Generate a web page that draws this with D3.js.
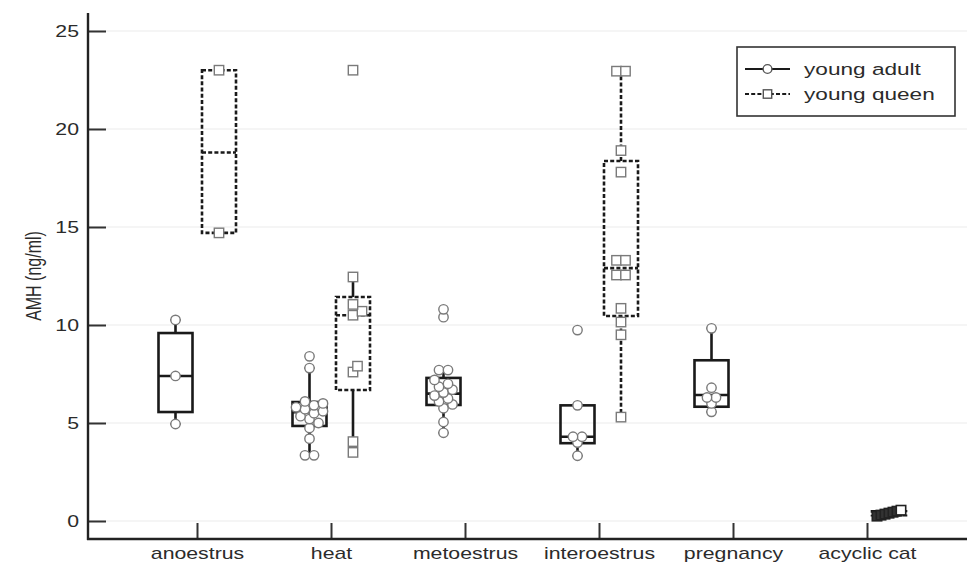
<!DOCTYPE html>
<html><head><meta charset="utf-8">
<script src="https://cdn.jsdelivr.net/npm/d3@7"></script>
<style>
body{margin:0;background:#fff}
svg{display:block}
text{font-family:"Liberation Sans",Arial,Helvetica,sans-serif;fill:#2b2b2b}
</style>
</head><body>
<svg id="c" width="967" height="570"></svg>
<script>
// ---------- data ----------
const categories = ["anoestrus","heat","metoestrus","interoestrus","pregnancy","acyclic cat"];
const yTicks = [0,5,10,15,20,25];
const seriesNames = ["young adult","young queen"];

// box statistics per category (null = no box)
const adultLow    = [4.95, 3.35, 4.5, 3.33, 5.57, null];
const adultQ1     = [5.56, 4.85, 5.92, 3.97, 5.83, null];
const adultMedian = [7.4, 5.55, 6.5, 4.3, 6.43, null];
const adultQ3     = [9.59, 6.07, 7.3, 5.9, 8.2, null];
const adultHigh   = [10.26, 7.8, 7.7, 5.9, 9.83, null];

const queenLow    = [14.7, 3.5, null, 5.3, null, 0.3];
const queenQ1     = [14.7, 6.68, null, 10.46, null, 0.3];
const queenMedian = [18.8, 10.5, null, 12.9, null, 0.4];
const queenQ3     = [23.0, 11.43, null, 18.37, null, 0.5];
const queenHigh   = [23.0, 12.45, null, 22.95, null, 0.5];

// individual values
const adultPoints = [
  [4.95, 7.4, 10.26],
  [3.35, 3.35, 4.2, 4.75, 5.0, 5.2, 5.35, 5.5, 5.6, 5.7, 5.8, 5.9, 6.0, 6.1, 7.8, 8.4],
  [4.5, 5.05, 5.75, 5.95, 6.1, 6.25, 6.4, 6.55, 6.7, 6.85, 7.0, 7.2, 7.7, 7.7, 10.4, 10.8],
  [3.33, 4.0, 4.3, 4.3, 5.9, 9.74],
  [5.57, 6.0, 6.3, 6.3, 6.8, 9.83],
  []
];
const queenPoints = [
  [14.7, 23.0],
  [3.5, 4.05, 7.6, 7.9, 10.5, 10.7, 11.05, 12.45, 23.0],
  [],
  [5.3, 9.5, 10.15, 10.85, 12.55, 12.55, 13.3, 13.3, 17.8, 18.9, 22.95, 22.95],
  [],
  [0.25, 0.3, 0.35, 0.4, 0.45, 0.5, 0.55]
];

// ---------- layout ----------
const svg = d3.select("#c");
const SX = 1.33; // horizontal stretch of the original figure text
const axisX = 88, axisBottomY = 539, axisTopY = 13, rightEdge = 967;
const y = d3.scaleLinear().domain([0,25]).range([521,31]);
const x = d3.scalePoint().domain(categories).range([197,867]);
const offAdult = -21.5, offQueen = 22, boxW = 34, capW = 10;
const solidQueenWhiskers = new Set(["heat"]);
const dash = "4,2.2";
const SW = 2.6;

// gridlines
svg.append("g").selectAll("line").data(yTicks).join("line")
  .attr("x1", axisX).attr("x2", rightEdge)
  .attr("y1", d=>y(d)).attr("y2", d=>y(d))
  .attr("stroke", "#ececec").attr("stroke-width", 1.2);

// boxes
function drawBoxes(low,q1,med,q3,high,off,dashed){
  const g = svg.append("g");
  categories.forEach((c,i)=>{
    if(q1[i]==null) return;
    const cx = x(c)+off;
    const wd = dashed && !solidQueenWhiskers.has(c) ? dash : null;
    const bd = dashed ? dash : null;
    if(high[i] > q3[i]){
      g.append("line").attr("x1",cx).attr("x2",cx).attr("y1",y(q3[i])).attr("y2",y(high[i]))
        .attr("stroke","#1a1a1a").attr("stroke-width",SW).attr("stroke-dasharray",wd);
      g.append("line").attr("x1",cx-capW/2).attr("x2",cx+capW/2).attr("y1",y(high[i])).attr("y2",y(high[i]))
        .attr("stroke","#1a1a1a").attr("stroke-width",1.8);
    }
    if(low[i] < q1[i]){
      g.append("line").attr("x1",cx).attr("x2",cx).attr("y1",y(q1[i])).attr("y2",y(low[i]))
        .attr("stroke","#1a1a1a").attr("stroke-width",SW).attr("stroke-dasharray",wd);
      g.append("line").attr("x1",cx-capW/2).attr("x2",cx+capW/2).attr("y1",y(low[i])).attr("y2",y(low[i]))
        .attr("stroke","#1a1a1a").attr("stroke-width",1.8);
    }
    g.append("rect").attr("x",cx-boxW/2).attr("width",boxW)
      .attr("y",y(q3[i])).attr("height",Math.max(1,y(q1[i])-y(q3[i])))
      .attr("fill","none").attr("stroke","#1a1a1a").attr("stroke-width",SW)
      .attr("stroke-dasharray",bd);
    g.append("line").attr("x1",cx-boxW/2).attr("x2",cx+boxW/2)
      .attr("y1",y(med[i])).attr("y2",y(med[i]))
      .attr("stroke","#1a1a1a").attr("stroke-width",SW).attr("stroke-dasharray",bd);
  });
}
drawBoxes(adultLow,adultQ1,adultMedian,adultQ3,adultHigh,offAdult,false);
drawBoxes(queenLow,queenQ1,queenMedian,queenQ3,queenHigh,offQueen,true);

// dodge points so overlapping values sit side by side
function dodge(vals, thr, step){
  const placed = [];
  const order = vals.map((v,i)=>i).sort((a,b)=>vals[a]-vals[b]);
  const out = new Array(vals.length);
  order.forEach(i=>{
    const py = y(vals[i]);
    const cands = [0];
    for(let k=1;k<8;k++){ cands.push(k*step, -k*step); }
    let px = 0;
    for(const cxo of cands){
      if(placed.every(p=>Math.hypot(p[0]-cxo,p[1]-py)>=thr)){ px=cxo; break; }
    }
    placed.push([px,py]);
    out[i] = {dx:px, py:py};
  });
  return out;
}
function layout(vals, spread){
  if(spread){ // tightly packed values: fan them out by rank
    const order = vals.map((v,i)=>i).sort((a,b)=>vals[a]-vals[b]);
    const out = new Array(vals.length);
    order.forEach((idx,r)=>{ out[idx] = {dx:(r-(vals.length-1)/2)*4, py:y(vals[idx]), rank:r}; });
    return out;
  }
  const d = dodge(vals, 7, 4.5);
  const groups = d3.group(d3.range(vals.length), i=>vals[i]);
  groups.forEach(idx=>{
    if(idx.length===2 && (d[idx[0]].dx===0 || d[idx[1]].dx===0)){
      const a=d[idx[0]], b=d[idx[1]];
      const m=(a.dx+b.dx)/2; a.dx-=m; b.dx-=m;
    }
  });
  return d;
}

const ptsAdult = svg.append("g"), ptsQueen = svg.append("g");
const R = 4.7;
categories.forEach((c,i)=>{
  layout(adultPoints[i], false).forEach(p=>{
    ptsAdult.append("circle").attr("cx",x(c)+offAdult+p.dx).attr("cy",p.py).attr("r",R)
      .attr("fill","#fff").attr("stroke","#7a7a7a").attr("stroke-width",1.4);
  });
  const darkQ = c==="acyclic cat";
  const lay = layout(queenPoints[i], darkQ);
  lay.forEach(p=>{
    const last = darkQ && p.rank===lay.length-1;
    ptsQueen.append("rect").attr("x",x(c)+offQueen+p.dx-R).attr("y",p.py-R)
      .attr("width",2*R).attr("height",2*R)
      .attr("fill",darkQ && !last ? "#333" : "#fff")
      .attr("stroke",darkQ?"#222":"#7a7a7a").attr("stroke-width",darkQ?1.6:1.4);
  });
});

// axes
const yAxis = d3.axisLeft(y).tickValues(yTicks).tickSize(-18).tickPadding(0);
const gy = svg.append("g").attr("transform",`translate(${axisX},0)`).call(yAxis);
gy.select(".domain").remove();
gy.selectAll(".tick line").attr("stroke","#333").attr("stroke-width",2);
gy.selectAll(".tick text").attr("x",-9/SX).attr("dy","0.36em")
  .attr("transform",`scale(${SX},1)`).style("font-size","16px")
  .style("font-family",'"Liberation Sans",Arial,sans-serif').attr("fill","#2b2b2b");

const xAxis = d3.axisBottom(x).tickSize(-16).tickPadding(0);
const gx = svg.append("g").attr("transform",`translate(0,${axisBottomY})`).call(xAxis);
gx.select(".domain").remove();
gx.selectAll(".tick line").attr("stroke","#333").attr("stroke-width",2);
gx.selectAll(".tick text").attr("y",0).attr("dy",0)
  .attr("transform",`translate(0,20) scale(${SX},1)`).style("font-size","16px")
  .style("font-family",'"Liberation Sans",Arial,sans-serif').attr("fill","#2b2b2b");

svg.append("line").attr("x1",axisX).attr("x2",axisX).attr("y1",axisTopY).attr("y2",axisBottomY+1)
  .attr("stroke","#222").attr("stroke-width",2.4);
svg.append("line").attr("x1",axisX-1).attr("x2",rightEdge).attr("y1",axisBottomY).attr("y2",axisBottomY)
  .attr("stroke","#222").attr("stroke-width",2.4);

// y label
svg.append("text").attr("transform",`translate(41,${(y(0)+y(25))/2}) scale(${SX},1) rotate(-90)`)
  .attr("text-anchor","middle").style("font-size","16px").attr("fill","#2b2b2b").text("AMH (ng/ml)");

// legend
const lg = svg.append("g");
lg.append("rect").attr("x",737).attr("y",47).attr("width",218).attr("height",69)
  .attr("fill","#fff").attr("stroke","#333").attr("stroke-width",1.6);
seriesNames.forEach((n,i)=>{
  const ly = 69 + i*25;
  lg.append("line").attr("x1",745).attr("x2",790).attr("y1",ly).attr("y2",ly)
    .attr("stroke","#1a1a1a").attr("stroke-width",2.2).attr("stroke-dasharray",i?dash:null);
  if(i===0) lg.append("circle").attr("cx",767.5).attr("cy",ly).attr("r",4.4)
    .attr("fill","#fff").attr("stroke","#555").attr("stroke-width",1.4);
  else lg.append("rect").attr("x",763.3).attr("y",ly-4.2).attr("width",8.4).attr("height",8.4)
    .attr("fill","#fff").attr("stroke","#555").attr("stroke-width",1.4);
  lg.append("text").attr("transform",`translate(804,${ly+6}) scale(${SX},1)`)
    .style("font-size","17px").attr("fill","#2b2b2b").text(n);
});
</script>
</body></html>
